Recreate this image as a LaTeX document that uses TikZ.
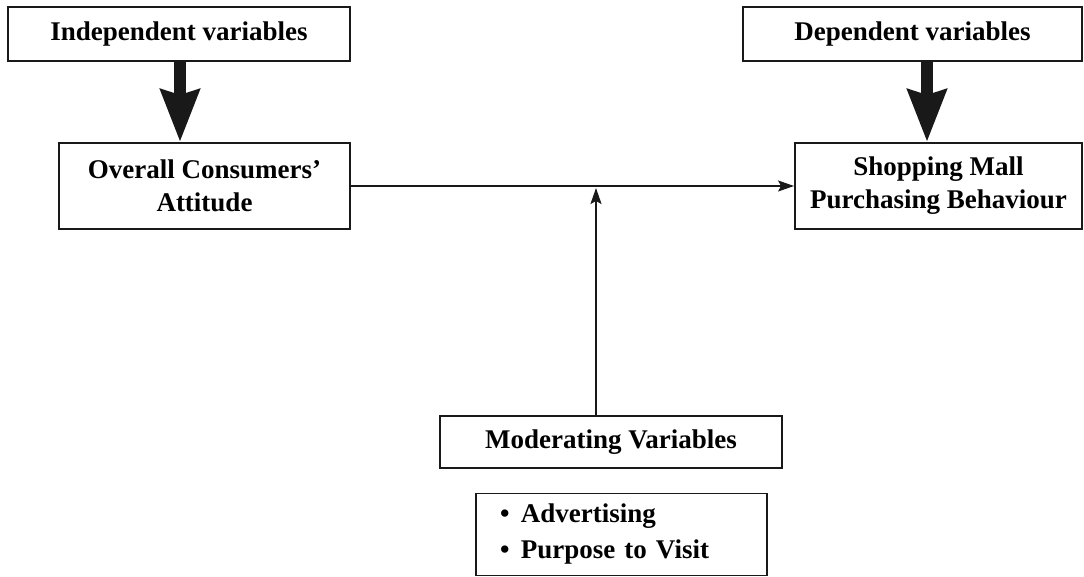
\documentclass[tikz,border=0pt]{standalone}
\usepackage{fontspec}
\setmainfont{Liberation Serif}
\usetikzlibrary{arrows.meta}
\newcommand{\bulitem}{\makebox[21pt][l]{\textbullet}}
\begin{document}
\begin{tikzpicture}[x=1pt,y=-1pt,
  box/.style={draw=black!90,line width=1.9pt,inner sep=0pt,align=center,
    font=\fontsize{27}{33}\selectfont\bfseries},
  bigarrow/.style={line width=12pt,draw=black!90,-{Stealth[length=52pt,width=38pt,inset=5pt]}},
  thinarrow/.style={line width=1.6pt,draw=black!90,-{Stealth[length=16pt,width=11pt,inset=3pt]}}]
\useasboundingbox (0,0) rectangle (1084,577);
\node[box,minimum width=342pt,minimum height=54pt] (ind) at (179,34) {Independent variables};
\node[box,minimum width=291pt,minimum height=86pt] (oca) at (204.5,186) {Overall Consumers’\\Attitude};
\node[box,minimum width=339pt,minimum height=54pt] (dep) at (912.5,34) {Dependent variables};
\node[box,minimum width=287pt,minimum height=86pt] (smp) at (938.5,186) {Shopping Mall\\Purchasing Behaviour};
\node[box,minimum width=342pt,minimum height=52pt] (mod) at (611,442) {Moderating Variables};
\node[box,minimum width=291pt,minimum height=82pt,align=left,text width=243pt,inner xsep=0pt,
  font=\fontsize{27}{36}\selectfont\bfseries] (lst) at (621.5,534.5)
  {\bulitem Advertising\\\bulitem Purpose to Visit};
\coordinate (ca) at (180,0);
\coordinate (cb) at (927,0);
\coordinate (cm) at (596,188);
\draw[bigarrow] (ind.south -| ca) -- (oca.north -| ca);
\draw[bigarrow] (dep.south -| cb) -- (smp.north -| cb);
\draw[thinarrow] (oca.east) -- (smp.west);
\draw[thinarrow] (mod.north -| cm) -- (cm);
\end{tikzpicture}
\end{document}
